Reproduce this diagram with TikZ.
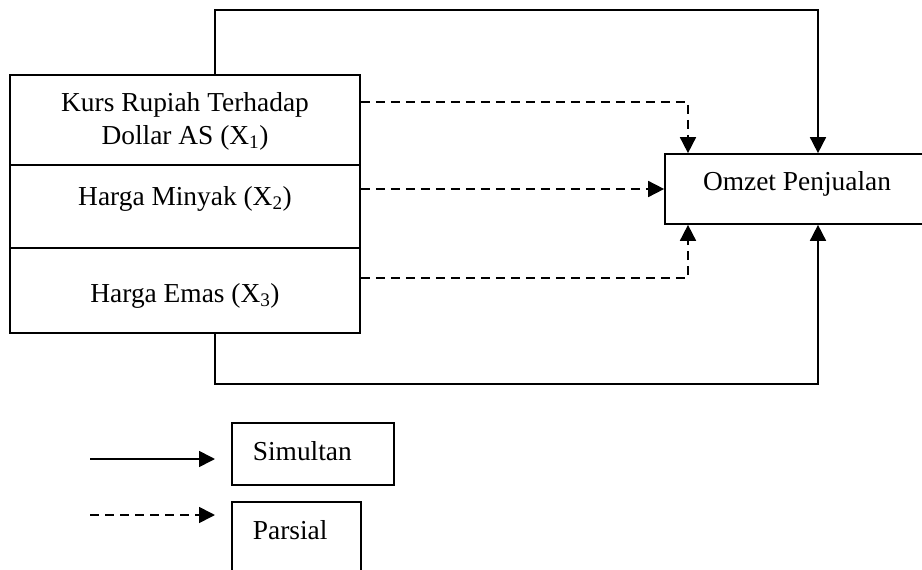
\documentclass[tikz,border=0pt]{standalone}
\usepackage{fontspec}
\setmainfont{Liberation Serif}
\usetikzlibrary{arrows.meta}
\begin{document}
\begin{tikzpicture}[x=1pt,y=-1pt,
 line width=1.7pt,
 box/.style={draw, line width=1.7pt, inner sep=0pt},
 txt/.style={font=\fontsize{27.4}{33}\selectfont, inner sep=0pt, align=center},
 arr/.style={-{Triangle[length=16pt,width=16pt]}},
 dsh/.style={dash pattern=on 9pt off 6pt}]
\useasboundingbox (0,0) rectangle (922,570);
% left stacked box
\node[box, minimum width=350pt, minimum height=90pt] (c1) at (185,120) {};
\node[box, minimum width=350pt, minimum height=83pt] (c2) at (185,206.5) {};
\node[box, minimum width=350pt, minimum height=85pt] (c3) at (185,290.5) {};
\node[txt] (t1) at (185,121) {Kurs Rupiah Terhadap\\Dollar AS (X\textsubscript{1})};
\node[txt] (t2) at (185,199) {Harga Minyak (X\textsubscript{2})};
\node[txt] (t3) at (185,296) {Harga Emas (X\textsubscript{3})};
% target
\node[box, minimum width=264pt, minimum height=70pt] (om) at (797,189) {};
\node[txt] (omt) at (797,184) {Omzet Penjualan};
% simultaneous
\coordinate (tl) at (215,10);
\coordinate (tr) at (818,10);
\draw[arr] (c1.north -| tl) -- (tl) -- (tr) -- (tr |- om.north);
\coordinate (bl) at (215,384);
\coordinate (br) at (818,384);
\draw[arr] (c3.south -| bl) -- (bl) -- (br) -- (br |- om.south);
% partial
\coordinate (d1) at (688,102);
\draw[arr,dsh] (c1.east |- d1) -- (d1) -- (d1 |- om.north);
\draw[arr,dsh] (c2.east |- om.west) -- (om.west);
\coordinate (d3) at (688,278);
\draw[arr,dsh] (c3.east |- d3) -- (d3) -- (d3 |- om.south);
% legend
\node[box, minimum width=162pt, minimum height=62pt] (sim) at (313,454) {};
\node[txt, anchor=west] (simt) at (252,451) {Simultan};
\coordinate (s0) at (90,459);
\coordinate (s1) at (215,459);
\draw[arr] (s0) -- (s1);
\node[box, minimum width=129pt, minimum height=88pt] (par) at (296.5,546) {};
\node[txt, anchor=west] (part) at (252,530) {Parsial};
\coordinate (p0) at (90,515);
\coordinate (p1) at (215,515);
\draw[arr,dsh] (p0) -- (p1);
\end{tikzpicture}
\end{document}
